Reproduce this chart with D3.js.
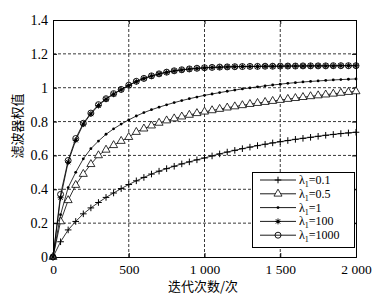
<!DOCTYPE html>
<html>
<head>
<meta charset="utf-8">
<script src="https://cdn.jsdelivr.net/npm/d3@7"></script>
<style>
  body { margin: 0; background: #fff; }
</style>
</head>
<body>
<svg id="chart" width="376" height="298"></svg>
<script>
// iteration count of every sample point
const iters = [0, 50, 100, 150, 200, 250, 300, 350, 400, 450, 500, 550, 600, 650, 700, 750, 800, 850, 900, 950,
    1000, 1050, 1100, 1150, 1200, 1250, 1300, 1350, 1400, 1450, 1500, 1550, 1600, 1650, 1700, 1750, 1800, 1850, 1900, 1950, 2000];

const lam01 = [0, 0.09, 0.16, 0.21, 0.255, 0.29, 0.322, 0.352, 0.378, 0.404, 0.428, 0.45, 0.47, 0.49, 0.507, 0.522, 0.536, 0.55, 0.562, 0.574,
    0.585, 0.597, 0.609, 0.62, 0.63, 0.64, 0.649, 0.658, 0.666, 0.674, 0.681, 0.688, 0.695, 0.701, 0.707, 0.713, 0.719, 0.724, 0.729, 0.733, 0.737];
const lam05 = [0, 0.21, 0.335, 0.425, 0.49, 0.548, 0.6, 0.633, 0.66, 0.685, 0.708, 0.738, 0.758, 0.776, 0.792, 0.806, 0.818, 0.829, 0.839, 0.849,
    0.858, 0.866, 0.874, 0.882, 0.889, 0.896, 0.903, 0.909, 0.915, 0.921, 0.927, 0.933, 0.938, 0.944, 0.949, 0.954, 0.959, 0.964, 0.969, 0.974, 0.978];
const lam1 = [0, 0.25, 0.41, 0.5, 0.58, 0.64, 0.685, 0.725, 0.757, 0.785, 0.81, 0.833, 0.853, 0.87, 0.885, 0.899, 0.912, 0.924, 0.935, 0.945,
    0.955, 0.963, 0.971, 0.979, 0.986, 0.993, 0.999, 1.005, 1.011, 1.016, 1.021, 1.026, 1.03, 1.034, 1.037, 1.04, 1.043, 1.046, 1.048, 1.05, 1.052];
const lam100 = [0, 0.35, 0.56, 0.69, 0.785, 0.845, 0.895, 0.932, 0.962, 0.988, 1.013, 1.036, 1.054, 1.069, 1.081, 1.091, 1.099, 1.105, 1.11, 1.114,
    1.117, 1.12, 1.121, 1.123, 1.124, 1.125, 1.125, 1.126, 1.127, 1.127, 1.127, 1.128, 1.128, 1.128, 1.129, 1.129, 1.129, 1.129, 1.13, 1.13, 1.13];
const lam1000 = [0, 0.37, 0.57, 0.7, 0.79, 0.85, 0.9, 0.935, 0.965, 0.99, 1.015, 1.038, 1.055, 1.07, 1.082, 1.092, 1.1, 1.106, 1.111, 1.115,
    1.118, 1.12, 1.122, 1.123, 1.124, 1.125, 1.126, 1.126, 1.127, 1.127, 1.128, 1.128, 1.128, 1.129, 1.129, 1.129, 1.129, 1.13, 1.13, 1.13, 1.13];

const legendLabels = ["0.1", "0.5", "1", "100", "1000"];
const xTicks = [0, 500, 1000, 1500, 2000];
const yTicks = [0, 0.2, 0.4, 0.6, 0.8, 1, 1.2, 1.4];

const series = [
    { label: legendLabels[0], values: lam01, marker: "plus" },
    { label: legendLabels[1], values: lam05, marker: "triangle" },
    { label: legendLabels[2], values: lam1, marker: "dot" },
    { label: legendLabels[3], values: lam100, marker: "star" },
    { label: legendLabels[4], values: lam1000, marker: "circle" }
];

const SERIF = '"Liberation Serif", "Times New Roman", serif';
const CJK = '"Noto Sans CJK SC", sans-serif';

const margin = { top: 20, right: 20, bottom: 41, left: 53 };
const width = 376, height = 298;

const svg = d3.select("#chart");

const x = d3.scaleLinear().domain([0, 2000]).range([margin.left, width - margin.right]);
const y = d3.scaleLinear().domain([0, 1.4]).range([height - margin.bottom, margin.top]);

// dashed grid
svg.append("g")
    .selectAll("line")
    .data(yTicks.filter(d => d > 0 && d < 1.4))
    .enter()
    .append("line")
    .attr("x1", x(0)).attr("x2", x(2000))
    .attr("y1", d => y(d)).attr("y2", d => y(d))
    .attr("stroke", "#222").attr("stroke-width", 0.9)
    .attr("stroke-dasharray", "3,2");

svg.append("g")
    .selectAll("line")
    .data(xTicks.filter(d => d > 0 && d < 2000))
    .enter()
    .append("line")
    .attr("y1", y(0)).attr("y2", y(1.4))
    .attr("x1", d => x(d)).attr("x2", d => x(d))
    .attr("stroke", "#222").attr("stroke-width", 0.9)
    .attr("stroke-dasharray", "3,2");

const fmtX = d => d >= 1000 ? d3.format(",")(d).replace(",", " ") : String(d);

// axes, ticks pointing inward
const xAxis = svg.append("g")
    .attr("transform", `translate(0, ${y(0)})`)
    .call(d3.axisBottom(x).tickValues(xTicks).tickSize(-4).tickPadding(7).tickFormat(fmtX));
svg.append("g")
    .attr("transform", `translate(0, ${y(1.4)})`)
    .call(d3.axisTop(x).tickValues(xTicks).tickSize(-4).tickFormat(""));
const yAxis = svg.append("g")
    .attr("transform", `translate(${x(0)}, 0)`)
    .call(d3.axisLeft(y).tickValues(yTicks).tickSize(-4).tickPadding(5).tickFormat(d3.format("~g")));
svg.append("g")
    .attr("transform", `translate(${x(2000)}, 0)`)
    .call(d3.axisRight(y).tickValues(yTicks).tickSize(-4).tickFormat(""));

svg.selectAll(".domain").attr("stroke", "#000").attr("stroke-width", 1);
svg.selectAll(".tick line").attr("stroke", "#000");
svg.selectAll(".tick text")
    .style("font-family", SERIF)
    .style("font-size", "14px")
    .attr("fill", "#000");
xAxis.selectAll(".tick text").style("font-size", "13.5px");

// axis titles
svg.append("text")
    .attr("x", 203).attr("y", 291)
    .attr("text-anchor", "middle")
    .style("font-family", CJK)
    .style("font-size", "13px")
    .attr("fill", "#000")
    .text("迭代次数/次");

svg.append("text")
    .attr("transform", "translate(22, 126) rotate(-90)")
    .attr("text-anchor", "middle")
    .style("font-family", CJK)
    .style("font-size", "13px")
    .attr("fill", "#000")
    .text("滤波器权值");

function drawMarker(g, type) {
    if (type === "plus") {
        g.append("path").attr("d", "M-3.3,0H3.3M0,-3.3V3.3").attr("stroke", "#000").attr("stroke-width", 1);
    } else if (type === "triangle") {
        g.append("path").attr("d", d3.symbol().type(d3.symbolTriangle).size(28)())
            .attr("fill", "#fff").attr("stroke", "#000").attr("stroke-width", 0.8);
    } else if (type === "dot") {
        g.append("circle").attr("r", 1.4).attr("fill", "#000");
    } else if (type === "star") {
        g.append("path").attr("d", "M-3,0H3M0,-3V3M-2.2,-2.2L2.2,2.2M-2.2,2.2L2.2,-2.2")
            .attr("stroke", "#000").attr("stroke-width", 0.9);
        g.append("circle").attr("r", 1.5).attr("fill", "#000");
    } else if (type === "circle") {
        g.append("circle").attr("r", 3).attr("fill", "none").attr("stroke", "#000").attr("stroke-width", 0.9);
    }
}

const line = d3.line()
    .x((d, i) => x(iters[i]))
    .y(d => y(d));

series.forEach(s => {
    svg.append("path")
        .datum(s.values)
        .attr("d", line)
        .attr("fill", "none")
        .attr("stroke", "#000")
        .attr("stroke-width", 0.8);

    svg.append("g")
        .selectAll("g")
        .data(s.values)
        .enter()
        .append("g")
        .attr("transform", (d, i) => `translate(${x(iters[i])}, ${y(d)})`)
        .each(function () { drawMarker(d3.select(this), s.marker); });
});

// legend
const legend = svg.append("g");
legend.append("rect")
    .attr("x", 252.5).attr("y", 172.5)
    .attr("width", 102).attr("height", 75)
    .attr("fill", "#fff").attr("stroke", "#000").attr("stroke-width", 1);

const rows = legend.selectAll(".row")
    .data(series)
    .enter()
    .append("g")
    .attr("class", "row")
    .attr("transform", (d, i) => `translate(0, ${180 + i * 13.8})`);

rows.append("line")
    .attr("x1", 260).attr("x2", 296)
    .attr("stroke", "#000").attr("stroke-width", 0.9);
rows.append("g")
    .attr("transform", "translate(278, 0)")
    .each(function (d) { drawMarker(d3.select(this), d.marker); });

const lt = rows.append("text")
    .attr("x", 299).attr("y", 4)
    .style("font-family", SERIF)
    .style("font-size", "12px")
    .attr("fill", "#000");
lt.append("tspan").text("\u03bb");
lt.append("tspan").style("font-size", "8px").attr("dy", 3).text("1");
lt.append("tspan").attr("dy", -3).text(d => "=" + d.label);
</script>
</body>
</html>
